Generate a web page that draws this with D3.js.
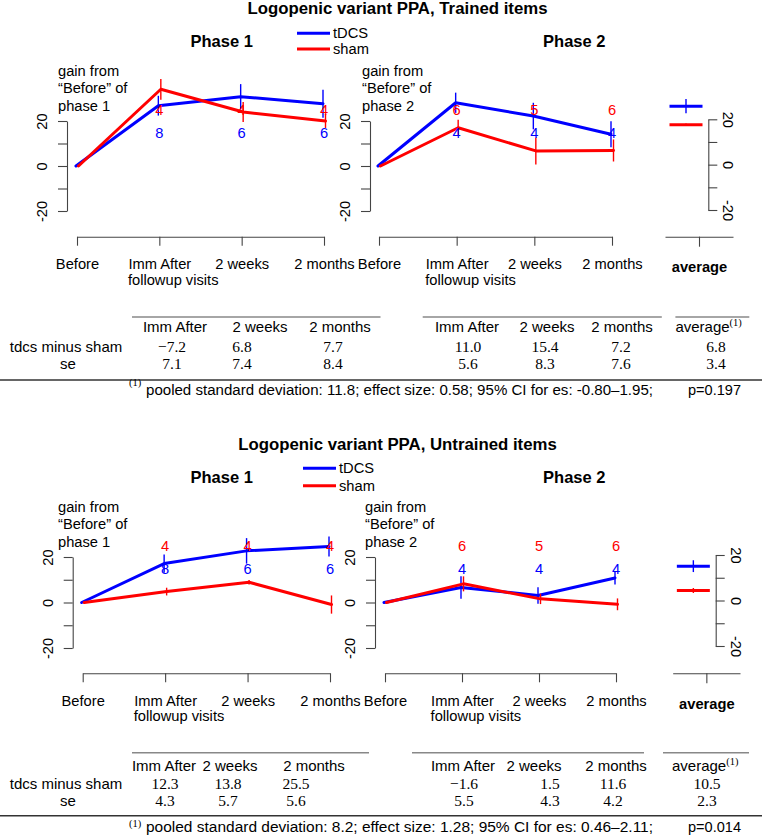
<!DOCTYPE html>
<html><head><meta charset="utf-8">
<script src="https://cdn.jsdelivr.net/npm/d3@7"></script>
<style>body{margin:0;background:#fff} svg{display:block}</style>
</head><body>
<script>
// ================= DATA =================
const visits = ["Before", "Imm After", "2 weeks", "2 months"];
const series = ["tDCS", "sham"];
const seriesColors = ["#0000ff", "#ff0000"];
const yTicks = [-20, -10, 0, 10, 20];
const yLabelled = [-20, 0, 20];
const blockTitles = ["Logopenic variant PPA, Trained items", "Logopenic variant PPA, Untrained items"];
const phaseTitles = ["Phase 1", "Phase 2"];
const gainLines = [["gain from", "\u201cBefore\u201d of", "phase 1"], ["gain from", "\u201cBefore\u201d of", "phase 2"]];
const avgLabel = "average";

// Trained items: mean gain and se per visit
const trainedP1Tdcs   = [0, 26.8, 30.8, 27.7];
const trainedP1Sham   = [0, 34.1, 24.0, 20.0];
const trainedP1TdcsSe = [0, 4.4, 5.6, 6.2];
const trainedP1ShamSe = [0, 4.6, 4.4, 3.1];
const trainedP2Tdcs   = [0, 28.1, 22.2, 14.1];
const trainedP2Sham   = [0, 17.0, 6.7, 6.9];
const trainedP2TdcsSe = [0, 4.5, 5.9, 5.8];
const trainedP2ShamSe = [0, 3.6, 6.0, 4.9];
const trainedAvg      = [25.8, 17.6];
const trainedAvgSe    = [3.1, 0.5];

// Untrained items
const untrainedP1Tdcs   = [0, 17.1, 22.7, 24.6];
const untrainedP1Sham   = [0, 4.8, 8.9, -0.9];
const untrainedP1TdcsSe = [0, 4.0, 5.6, 4.4];
const untrainedP1ShamSe = [0, 1.7, 1.0, 4.0];
const untrainedP2Tdcs   = [0, 6.6, 3.1, 10.8];
const untrainedP2Sham   = [0, 8.2, 1.6, -0.8];
const untrainedP2TdcsSe = [0, 4.9, 3.6, 2.9];
const untrainedP2ShamSe = [0, 3.3, 2.3, 2.6];
const untrainedAvg      = [15.1, 4.4];
const untrainedAvgSe    = [2.6, 1.1];

// group sizes (Imm After, 2 weeks, 2 months)
const nP1Tdcs = [8, 6, 6];
const nP1Sham = [4, 4, 4];
const nP2Tdcs = [4, 4, 4];
const nP2Sham = [6, 5, 6];

// tables
const tableCols = ["Imm After", "2 weeks", "2 months", "Imm After", "2 weeks", "2 months"];
const rowLabels = ["tdcs minus sham", "se"];
const trainedDiff   = [-7.2, 6.8, 7.7, 11.0, 15.4, 7.2, 6.8];
const trainedDiffSe = [7.1, 7.4, 8.4, 5.6, 8.3, 7.6, 3.4];
const untrainedDiff   = [12.3, 13.8, 25.5, -1.6, 1.5, 11.6, 10.5];
const untrainedDiffSe = [4.3, 5.7, 5.6, 5.5, 4.3, 4.2, 2.3];
const pooledSd   = [11.8, 8.2];
const effectSize = [0.58, 1.28];
const ciLow      = [-0.80, 0.46];
const ciHigh     = [1.95, 2.11];
const pValues    = [0.197, 0.014];

// ================= LAYOUT =================
const W = 762, H = 836;
const FONT = "'Liberation Sans', Arial, Helvetica, sans-serif";
const SERIF = "'Liberation Serif', 'DejaVu Serif', serif";
const FS = 14.7;
const seriesOffsets = [-1, 1.5];

const layouts = [
  { titleY: 14, phaseY: 46.7, legX: 297, legY: [33.3, 49], gainX: [58, 362], gainY: [75.5, 93, 110.5],
    px: [[77, 324], [379, 612]], yAxX: [67, 370], yTop: 121, yBot: 211, xAxY: 236.7,
    avgAxX: 708.3, avgYTop: 119.3, avgYBot: 210, avgXr: [665, 733] },
  { titleY: 449.5, phaseY: 483.3, legX: 303, legY: [468.3, 485.7], gainX: [58, 365], gainY: [511.7, 529.3, 547],
    px: [[82.7, 330], [385, 616]], yAxX: [72.7, 375], yTop: 557, yBot: 648, xAxY: 673.3,
    avgAxX: 715.7, avgYTop: 555, avgYBot: 646, avgXr: [672.7, 740] }
];
const tableLayouts = [
  { ruleY: 317, rules: [[132, 380.5], [422.7, 661.8], [675.4, 749.3]], headerY: 331.7, rowY: [351.7, 369.3],
    bottomRuleY: 380, footY: 395, supY: 386, headerX: [175, 260, 340, 467, 547, 622], avgHeaderX: 675.4,
    valX: [172, 242, 333, 468, 545, 621, 716] },
  { ruleY: 752.7, rules: [[132, 369], [412, 644], [663, 749]], headerY: 770.7, rowY: [789, 806],
    bottomRuleY: 815.7, footY: 831.7, supY: 827, headerX: [164, 230, 314, 463, 534, 616], avgHeaderX: 672,
    valX: [165, 228, 296, 464, 550, 613, 707] }
];

const blocks = [
  { title: blockTitles[0],
    phases: [
      { vals: [trainedP1Tdcs, trainedP1Sham], se: [trainedP1TdcsSe, trainedP1ShamSe], n: [nP1Tdcs, nP1Sham] },
      { vals: [trainedP2Tdcs, trainedP2Sham], se: [trainedP2TdcsSe, trainedP2ShamSe], n: [nP2Tdcs, nP2Sham] }
    ], avg: trainedAvg, avgSe: trainedAvgSe,
    diff: trainedDiff, diffSe: trainedDiffSe },
  { title: blockTitles[1],
    phases: [
      { vals: [untrainedP1Tdcs, untrainedP1Sham], se: [untrainedP1TdcsSe, untrainedP1ShamSe], n: [nP1Tdcs, nP1Sham] },
      { vals: [untrainedP2Tdcs, untrainedP2Sham], se: [untrainedP2TdcsSe, untrainedP2ShamSe], n: [nP2Tdcs, nP2Sham] }
    ], avg: untrainedAvg, avgSe: untrainedAvgSe,
    diff: untrainedDiff, diffSe: untrainedDiffSe }
];

// ================= DRAW =================
const svg = d3.select("body").append("svg").attr("width", W).attr("height", H)
  .style("font-family", FONT).style("font-size", FS + "px");

function styleAxis(ga) {
  ga.attr("font-family", FONT).attr("font-size", FS);
  ga.selectAll("path.domain, .tick line").attr("stroke", "#444").attr("stroke-width", 1.1);
  ga.selectAll(".tick text").attr("fill", "#000");
}
const tickFmt = v => yLabelled.includes(v) ? String(v) : "";

function drawBlock(L, d) {
  const g = svg.append("g");
  g.append("text").attr("x", 397.5).attr("y", L.titleY).attr("text-anchor", "middle")
    .attr("font-weight", "bold").attr("font-size", 16.8).text(d.title);
  phaseTitles.forEach((t, i) => g.append("text").attr("x", [221.7, 574.3][i]).attr("y", L.phaseY)
    .attr("text-anchor", "middle").attr("font-weight", "bold").attr("font-size", 16.5).text(t));
  // legend
  series.forEach((s, i) => {
    g.append("line").attr("x1", L.legX).attr("x2", L.legX + 33).attr("y1", L.legY[i]).attr("y2", L.legY[i])
      .attr("stroke", seriesColors[i]).attr("stroke-width", 3);
    g.append("text").attr("x", L.legX + 36).attr("y", L.legY[i] + 4.8).text(s);
  });

  const y = d3.scaleLinear().domain([-20, 20]).range([L.yBot, L.yTop]);
  d.phases.forEach((ph, pi) => {
    const x = d3.scalePoint().domain(visits).range(L.px[pi]);
    // gain label
    gainLines[pi].forEach((t, k) => g.append("text").attr("x", L.gainX[pi]).attr("y", L.gainY[k]).text(t));
    // y axis
    const ga = g.append("g").attr("transform", `translate(${L.yAxX[pi]},0)`)
      .call(d3.axisLeft(y).tickValues(yTicks).tickSize(9).tickSizeOuter(0).tickFormat(tickFmt));
    styleAxis(ga);
    ga.selectAll(".tick text").attr("x", null).attr("dy", null).attr("text-anchor", "middle")
      .attr("transform", "translate(-20,0) rotate(-90)");
    // x axis
    const gx = g.append("g").attr("transform", `translate(0,${L.xAxY})`)
      .call(d3.axisBottom(x).tickSize(9).tickSizeOuter(0).tickPadding(13));
    styleAxis(gx);
    const immNode = gx.selectAll(".tick text").filter(v => v === "Imm After").node();
    const w = immNode.getComputedTextLength();
    g.append("text").attr("x", x("Imm After") - w / 2).attr("y", L.xAxY + 48).text("followup visits");
    // lines, error bars
    ph.vals.forEach((vals, si) => {
      const off = seriesOffsets[si];
      g.append("path").datum(vals)
        .attr("d", d3.line().x((v, i) => x(visits[i]) + off).y(v => y(v)))
        .attr("fill", "none").attr("stroke", seriesColors[si]).attr("stroke-width", 3)
        .attr("stroke-linejoin", "round").attr("stroke-linecap", "round");
      vals.forEach((v, i) => {
        const se = ph.se[si][i];
        if (se > 0) {
          g.append("line").attr("x1", x(visits[i]) + off).attr("x2", x(visits[i]) + off)
            .attr("y1", y(v - se)).attr("y2", y(v + se))
            .attr("stroke", seriesColors[si]).attr("stroke-width", 1.4);
        }
      });
    });
    // counts
    ph.n.forEach((ns, si) => {
      ns.forEach((n, i) => {
        g.append("text").attr("x", x(visits[i + 1])).attr("y", y(si === 0 ? 15 : 25)).attr("dy", "0.36em")
          .attr("text-anchor", "middle").attr("fill", seriesColors[si]).text(n);
      });
    });
  });

  // average panel
  const ya = d3.scaleLinear().domain([-20, 20]).range([L.avgYBot, L.avgYTop]);
  const gaa = g.append("g").attr("transform", `translate(${L.avgAxX},0)`)
    .call(d3.axisRight(ya).tickValues(yTicks).tickSize(9).tickSizeOuter(0).tickFormat(tickFmt));
  styleAxis(gaa);
  gaa.selectAll(".tick text").attr("x", null).attr("dy", null).attr("text-anchor", "middle")
    .attr("transform", "translate(15,0) rotate(90)");
  const xa = d3.scalePoint().domain([avgLabel]).range(L.avgXr).padding(0.5);
  const gxa = g.append("g").attr("transform", `translate(0,${L.xAxY})`)
    .call(d3.axisBottom(xa).tickSize(10).tickSizeOuter(0).tickPadding(15));
  styleAxis(gxa);
  gxa.selectAll(".tick text").attr("font-weight", "bold");
  const cx = xa(avgLabel) - 13;
  d.avg.forEach((v, si) => {
    g.append("line").attr("x1", cx - 16.5).attr("x2", cx + 16.5).attr("y1", ya(v)).attr("y2", ya(v))
      .attr("stroke", seriesColors[si]).attr("stroke-width", 3);
    const se = d.avgSe[si];
    g.append("line").attr("x1", cx).attr("x2", cx).attr("y1", ya(v - se)).attr("y2", ya(v + se))
      .attr("stroke", seriesColors[si]).attr("stroke-width", 1.4);
  });
}

const fmt1 = d3.format(".1f");
const fmtCi = v => (v < 0 ? "-" : "") + Math.abs(v).toFixed(2);

function drawTable(T, d, bi) {
  const g = svg.append("g");
  T.rules.forEach(r => g.append("line").attr("x1", r[0]).attr("x2", r[1]).attr("y1", T.ruleY).attr("y2", T.ruleY)
    .attr("stroke", "#888").attr("stroke-width", 1.4));
  tableCols.forEach((c, i) => g.append("text").attr("x", T.headerX[i]).attr("y", T.headerY)
    .attr("text-anchor", "middle").attr("font-size", 15).text(c));
  const ah = g.append("text").attr("x", T.avgHeaderX).attr("y", T.headerY).attr("font-size", 15);
  ah.append("tspan").text(avgLabel);
  ah.append("tspan").attr("dy", -6).attr("font-size", 10.5).attr("font-family", SERIF).text("(1)");
  rowLabels.forEach((r, k) => g.append("text").attr("x", k === 0 ? 66 : 68).attr("y", T.rowY[k])
    .attr("text-anchor", "middle").attr("font-size", 15).text(r));
  [d.diff, d.diffSe].forEach((row, k) => row.forEach((v, i) => g.append("text")
    .attr("x", T.valX[i]).attr("y", T.rowY[k]).attr("text-anchor", "middle")
    .attr("font-family", SERIF).attr("font-size", 15.5).text(fmt1(v))));
  g.append("line").attr("x1", 0).attr("x2", W).attr("y1", T.bottomRuleY).attr("y2", T.bottomRuleY)
    .attr("stroke", "#333").attr("stroke-width", 1.6);
  g.append("text").attr("x", 129).attr("y", T.supY).attr("font-size", 10.5).attr("font-family", SERIF).text("(1)");
  g.append("text").attr("x", 146).attr("y", T.footY).attr("font-size", 14)
    .attr("textLength", 507).attr("lengthAdjust", "spacingAndGlyphs")
    .text(`pooled standard deviation: ${pooledSd[bi]}; effect size: ${effectSize[bi].toFixed(2)}; 95% CI for es: ${fmtCi(ciLow[bi])}\u2013${fmtCi(ciHigh[bi])};`);
  g.append("text").attr("x", 688).attr("y", T.footY).attr("font-size", 14)
    .attr("textLength", 53).attr("lengthAdjust", "spacingAndGlyphs")
    .text(`p=${pValues[bi].toFixed(3)}`);
}

blocks.forEach((b, bi) => { drawBlock(layouts[bi], b); drawTable(tableLayouts[bi], b, bi); });
</script>
</body></html>
